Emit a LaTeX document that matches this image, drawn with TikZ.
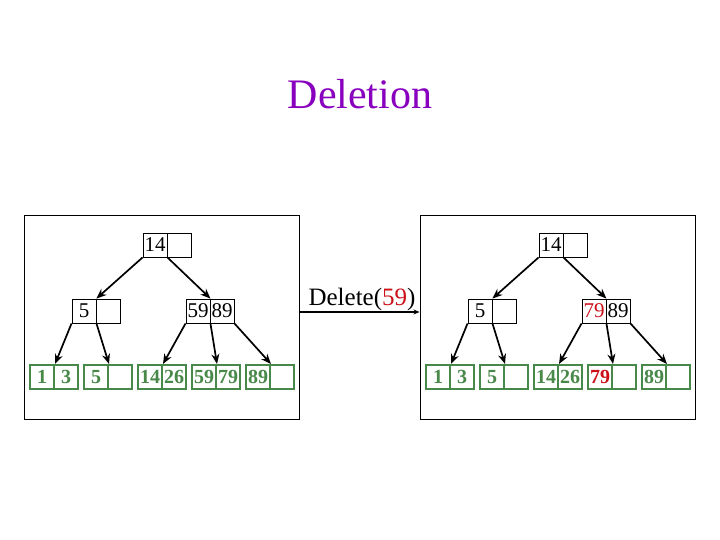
\documentclass[tikz,border=0pt]{standalone}
\usepackage{fontspec}
\setmainfont{Liberation Serif}
\usetikzlibrary{arrows.meta}
\definecolor{ttlpurple}{RGB}{136,0,190}
\definecolor{leafgreen}{RGB}{72,136,72}
\definecolor{delred}{RGB}{204,16,24}
\tikzset{
  icell/.style={draw=black, line width=0.9pt, minimum width=24pt, minimum height=24pt, inner sep=0pt,
    font=\fontsize{21}{24}\selectfont},
  lcell/.style={draw=leafgreen, line width=2pt, minimum width=24pt, minimum height=24pt, inner sep=0pt,
    text=leafgreen, font=\fontsize{20}{22}\selectfont\bfseries},
  frm/.style={draw=black, line width=1pt, minimum width=275pt, minimum height=203pt, inner sep=0pt},
  ptr/.style={line width=1.7pt, -{Stealth[length=10pt,width=8pt]}},
}
\begin{document}
\begin{tikzpicture}[x=1pt,y=-1pt]
\useasboundingbox (0,0) rectangle (720,540);
\node[text=ttlpurple, font=\fontsize{42}{48}\selectfont] (title) at (360,94) {Deletion};

% frames
\node[frm] (frameL) at (161.5,317.5) {};
\node[frm] (frameR) at (557.5,317.5) {};

% ===== left tree =====
\node[icell] (Lr1) at (155,245) {14};
\node[icell] (Lr2) at (179,245) {};
\node[icell] (La1) at (84,311) {5};
\node[icell] (La2) at (108,311) {};
\node[icell] (Lb1) at (198,311) {59};
\node[icell] (Lb2) at (222,311) {89};
\node[lcell] (L11) at (42,377) {1};
\node[lcell] (L12) at (66,377) {3};
\node[lcell] (L21) at (96,377) {5};
\node[lcell] (L22) at (120,377) {};
\node[lcell] (L31) at (150,377) {14};
\node[lcell] (L32) at (174,377) {26};
\node[lcell] (L41) at (204,377) {59};
\node[lcell] (L42) at (228,377) {79};
\node[lcell] (L51) at (258,377) {89};
\node[lcell] (L52) at (282,377) {};
\draw[ptr] (Lr1.south west) -- (La1.north east);
\draw[ptr] (Lr1.south east) -- (Lb1.north east);
\draw[ptr] (La1.south west) -- (L11.north east);
\draw[ptr] (La1.south east) -- (L21.north east);
\draw[ptr] (Lb1.south west) -- (L31.north east);
\draw[ptr] (Lb1.south east) -- (L41.north east);
\draw[ptr] (Lb2.south east) -- (L51.north east);

% ===== right tree =====
\node[icell] (Rr1) at (551,245) {14};
\node[icell] (Rr2) at (575,245) {};
\node[icell] (Ra1) at (480,311) {5};
\node[icell] (Ra2) at (504,311) {};
\node[icell, text=delred] (Rb1) at (594,311) {79};
\node[icell] (Rb2) at (618,311) {89};
\node[lcell] (R11) at (438,377) {1};
\node[lcell] (R12) at (462,377) {3};
\node[lcell] (R21) at (492,377) {5};
\node[lcell] (R22) at (516,377) {};
\node[lcell] (R31) at (546,377) {14};
\node[lcell] (R32) at (570,377) {26};
\node[lcell, text=delred] (R41) at (600,377) {79};
\node[lcell] (R42) at (624,377) {};
\node[lcell] (R51) at (654,377) {89};
\node[lcell] (R52) at (678,377) {};
\draw[ptr] (Rr1.south west) -- (Ra1.north east);
\draw[ptr] (Rr1.south east) -- (Rb1.north east);
\draw[ptr] (Ra1.south west) -- (R11.north east);
\draw[ptr] (Ra1.south east) -- (R21.north east);
\draw[ptr] (Rb1.south west) -- (R31.north east);
\draw[ptr] (Rb1.south east) -- (R41.north east);
\draw[ptr] (Rb2.south east) -- (R51.north east);

% delete arrow
\coordinate (dA) at (frameL.east |- 0,312);
\coordinate (dB) at (frameR.west |- 0,312);
\draw[line width=1.2pt, -{Stealth[length=6pt,width=5pt]}] (dA) -- (dB);
\node[anchor=base, font=\fontsize{25}{30}\selectfont, inner sep=0pt] (dlab) at (362,305) {Delete(\textcolor{delred}{59})};
\end{tikzpicture}
\end{document}
